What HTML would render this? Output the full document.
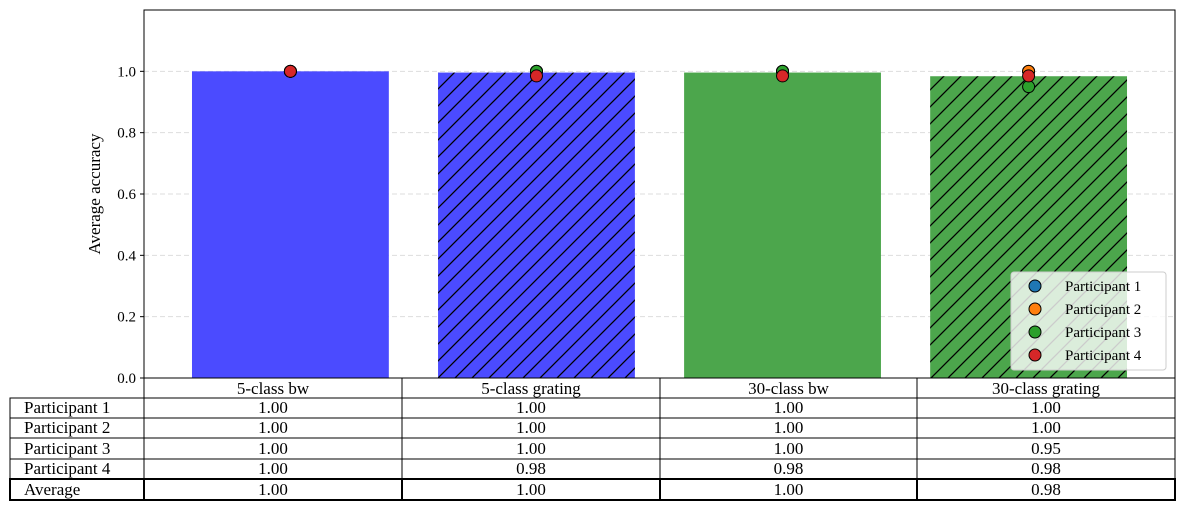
<!DOCTYPE html>
<html><head><meta charset="utf-8"><style>
body{margin:0;background:#fff;width:1184px;height:510px;overflow:hidden}
svg text{font-family:"Liberation Serif","DejaVu Serif",serif;fill:#000}
</style></head><body>
<svg id="chart" width="1184" height="510" xmlns="http://www.w3.org/2000/svg">
<defs>
<pattern id="hatch" patternUnits="userSpaceOnUse" width="17" height="17">
<path d="M-2,2 L2,-2 M0,17 L17,0 M15,19 L19,15" stroke="#000" stroke-width="1.3"/>
</pattern>
</defs>
<g id="grid"></g>
<g id="bars"></g>
<g id="points"></g>
<g id="axes"></g>
<g id="legend"></g>
<g id="table"></g>
</svg>
<script>
const categories=["5-class bw","5-class grating","30-class bw","30-class grating"];
const averages=[1.0,0.996,0.996,0.984];
const p1=[1.0,1.0,1.0,1.0];
const p2=[1.0,1.0,1.0,1.0];
const p3=[1.0,1.0,1.0,0.95];
const p4=[1.0,0.985,0.985,0.985];
const yTicks=[0.0,0.2,0.4,0.6,0.8,1.0];
const participants=["Participant 1","Participant 2","Participant 3","Participant 4"];
const NS="http://www.w3.org/2000/svg";
const L=144,R=1175,T=10,B=378;
const x=i=>L+(i+0.595)/4.19*(R-L);
const y=v=>B-v/1.2*(B-T);
const bw=0.8/4.19*(R-L);
function mk(tag,attrs,parent,txt){const e=document.createElementNS(NS,tag);for(const k in attrs)e.setAttribute(k,attrs[k]);if(txt!==undefined)e.textContent=txt;document.getElementById(parent).appendChild(e);return e;}
yTicks.forEach(t=>{
 if(t>0){const g=mk('line',{x1:L,x2:R,y1:y(t),y2:y(t),stroke:'#ddd','stroke-dasharray':'5,3'},'grid');
 
 }
 const tk=mk('line',{x1:L-4,x2:L,y1:y(t),y2:y(t),stroke:'#000'},'axes');
 
 
 const lb=mk('text',{x:L-8,y:y(t)+5,'text-anchor':'end','font-size':15},'axes',t.toFixed(1));
 
 
});
const colors=['#4b4bff','#4b4bff','#4ca64c','#4ca64c'];
averages.forEach((v,i)=>{
 const r=mk('rect',{x:x(i)-bw/2,y:y(v),width:bw,height:B-y(v),fill:colors[i]},'bars');
 
 
 if(i%2==1){const h=mk('rect',{x:x(i)-bw/2,y:y(v),width:bw,height:B-y(v),fill:'url(#hatch)'},'bars');
 
 }
});
const pc=['#1f77b4','#ff7f0e','#2ca02c','#d62728'];
[p1,p2,p3,p4].forEach((arr,j)=>{arr.forEach((v,i)=>{
 const c=mk('circle',{cx:x(i),cy:y(v),r:6,fill:pc[j],stroke:'#000','stroke-width':1},'points');
 
 
});});
mk('rect',{x:L,y:T,width:R-L,height:B-T,fill:'none',stroke:'#000','stroke-width':1},'axes');
const yt=mk('text',{x:100,y:194,'text-anchor':'middle','font-size':17,transform:'rotate(-90 100 194)'},'axes','Average accuracy');


const lg=mk('rect',{x:1011,y:272,width:155,height:98,fill:'rgba(255,255,255,0.8)',stroke:'#ccc',rx:3},'legend');


participants.forEach((p,j)=>{
 const cy=286+j*23;
 const c=mk('circle',{cx:1035,cy:cy,r:6,fill:pc[j],stroke:'#000'},'legend');
 
 
 const t=mk('text',{x:1065,y:cy+5,'font-size':15},'legend',p);
 
 
});
const colX=[10,144,402,660,917,1175];
const rowY=[378,398,418,438,459,479,500];
const rows=[["Participant 1",p1],["Participant 2",p2],["Participant 3",p3],["Participant 4",p4],["Average",averages]];
categories.forEach((c,i)=>{
 const t=mk('text',{x:(colX[i+1]+colX[i+2])/2,y:394,'text-anchor':'middle','font-size':17},'table',c);
 
 
});
mk('line',{x1:144,x2:1175,y1:378,y2:378,stroke:'#000'},'table');
rows.forEach((r,k)=>{
 const y0=rowY[k+1],y1=rowY[k+2];
 const last=k==4;
 const lbl=mk('text',{x:24,y:y1-5,'font-size':17},'table',r[0]);
 
 
 r[1].forEach((v,i)=>{
  const t=mk('text',{x:(colX[i+1]+colX[i+2])/2,y:y1-5,'text-anchor':'middle','font-size':17},'table',v.toFixed(2));
  
  
 });
 for(let i=0;i<5;i++){
  mk('rect',{x:colX[i],y:y0,width:colX[i+1]-colX[i],height:y1-y0,fill:'none',stroke:'#000','stroke-width':last?2:1},'table');
 }
});
for(let i=1;i<5;i++)mk('line',{x1:colX[i],x2:colX[i],y1:378,y2:398,stroke:'#000'},'table');
mk('line',{x1:1175,x2:1175,y1:378,y2:398,stroke:'#000'},'table');
</script>
</body></html>
